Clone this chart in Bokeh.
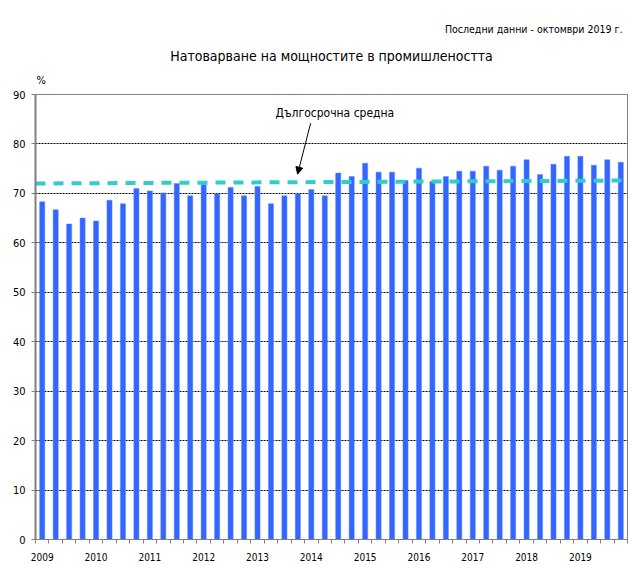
from bokeh.plotting import figure
from bokeh.models import (Range1d, FixedTicker, Label, Arrow, NormalHead,
                          Title, ColumnDataSource)
from bokeh.embed import file_html
from bokeh.resources import INLINE

# ---- data -------------------------------------------------------------
years = ["2009", "2010", "2011", "2012", "2013", "2014",
         "2015", "2016", "2017", "2018", "2019"]
utilisation = [
    68.3, 66.7, 63.8, 65.0,   # 2009
    64.4, 68.6, 67.9, 71.0,   # 2010
    70.5, 70.1, 72.0, 69.5,   # 2011
    71.8, 69.9, 71.2, 69.5,   # 2012
    71.4, 67.9, 69.5, 69.9,   # 2013
    70.8, 69.5, 74.1, 73.4,   # 2014
    76.1, 74.3, 74.3, 72.6,   # 2015
    75.1, 72.4, 73.4, 74.5,   # 2016
    74.5, 75.5, 74.7, 75.5,   # 2017
    76.8, 73.8, 75.9, 77.5,   # 2018
    77.5, 75.7, 76.8, 76.3,   # 2019
]
long_term_pos = [-0.5, 10.5, 21.5, 32.5, 43.5]
long_term_avg = [72.0, 72.15, 72.3, 72.45, 72.6]

title_text = "Натоварване на мощностите в промишлеността"
subtitle_text = "Последни данни - октомври 2019 г."
avg_label = "Дългосрочна средна"
y_unit = "%"

FONT = "DejaVu Sans Condensed"
n = len(utilisation)
xs = list(range(n))

p = figure(width=637, height=565, output_backend="svg", toolbar_location=None,
           x_range=Range1d(-0.5, n - 0.5), y_range=Range1d(0, 90),
           min_border_left=35, min_border_right=10, min_border_top=94,
           min_border_bottom=26)
p.background_fill_color = "white"
p.border_fill_color = "white"
p.outline_line_color = "#808080"
p.outline_line_width = 1

# titles stacked above the frame (first = closest to the frame)
p.add_layout(Title(text=y_unit, align="left", offset=1, standoff=16,
                   text_font=FONT, text_font_size="11px",
                   text_font_style="normal", text_color="black"), "above")
p.add_layout(Title(text=title_text, align="center", offset=5, standoff=0,
                   text_font=FONT, text_font_size="14px",
                   text_font_style="normal", text_color="black"), "above")
p.add_layout(Title(text=subtitle_text, align="right", offset=5, standoff=21,
                   text_font=FONT, text_font_size="10.5px",
                   text_font_style="normal", text_color="black"), "above")

# grid
p.xgrid.grid_line_color = None
p.ygrid.ticker = FixedTicker(ticks=list(range(10, 90, 10)))
p.ygrid.grid_line_color = "black"
p.ygrid.grid_line_dash = "2 1"
p.ygrid.grid_line_width = 1

# bars
src = ColumnDataSource(dict(x=xs, top=utilisation))
p.vbar(x="x", top="top", bottom=0, width=0.38, source=src,
       fill_color="#3366FF", line_color="#5a82ff", line_width=0.5)

# long-term average
p.line(long_term_pos, long_term_avg, line_color="#33CCCC", line_width=4,
       line_dash="10 8")

# y axis
yax = p.yaxis[0]
yax.ticker = FixedTicker(ticks=list(range(0, 100, 10)))
yax.axis_line_color = "#808080"
yax.axis_line_width = 2
yax.major_tick_out = 4
yax.major_tick_in = 0
yax.major_tick_line_color = "#808080"
yax.minor_tick_line_color = None
yax.major_label_text_font = FONT
yax.major_label_text_font_size = "11px"
yax.major_label_text_color = "black"
yax.major_label_standoff = 6

# x axis
xax = p.xaxis[0]
q1_pos = [4 * i for i in range(len(years))]
xax.ticker = FixedTicker(ticks=q1_pos,
                         minor_ticks=[i - 0.5 for i in range(n + 1)])
xax.major_label_overrides = {pos: yr for pos, yr in zip(q1_pos, years)}
xax.axis_line_color = "#808080"
xax.axis_line_width = 1
xax.major_tick_line_color = None
xax.major_tick_out = 0
xax.major_tick_in = 0
xax.minor_tick_out = 4
xax.minor_tick_in = 0
xax.minor_tick_line_color = "#808080"
xax.major_label_text_font = FONT
xax.major_label_text_font_size = "10px"
xax.major_label_text_color = "black"
xax.major_label_standoff = 9

# annotation of the long-term average
p.add_layout(Label(x=21.75, y=86.2, text=avg_label, text_font=FONT,
                   text_font_size="12px", text_align="center",
                   text_baseline="middle", text_color="black"))
p.add_layout(Arrow(x_start=19.95, y_start=84.2, x_end=18.98, y_end=73.9,
                   line_color="black", line_width=1,
                   end=NormalHead(size=7, fill_color="black",
                                  line_color="black")))

open("out.html", "w").write(file_html(p, INLINE))
